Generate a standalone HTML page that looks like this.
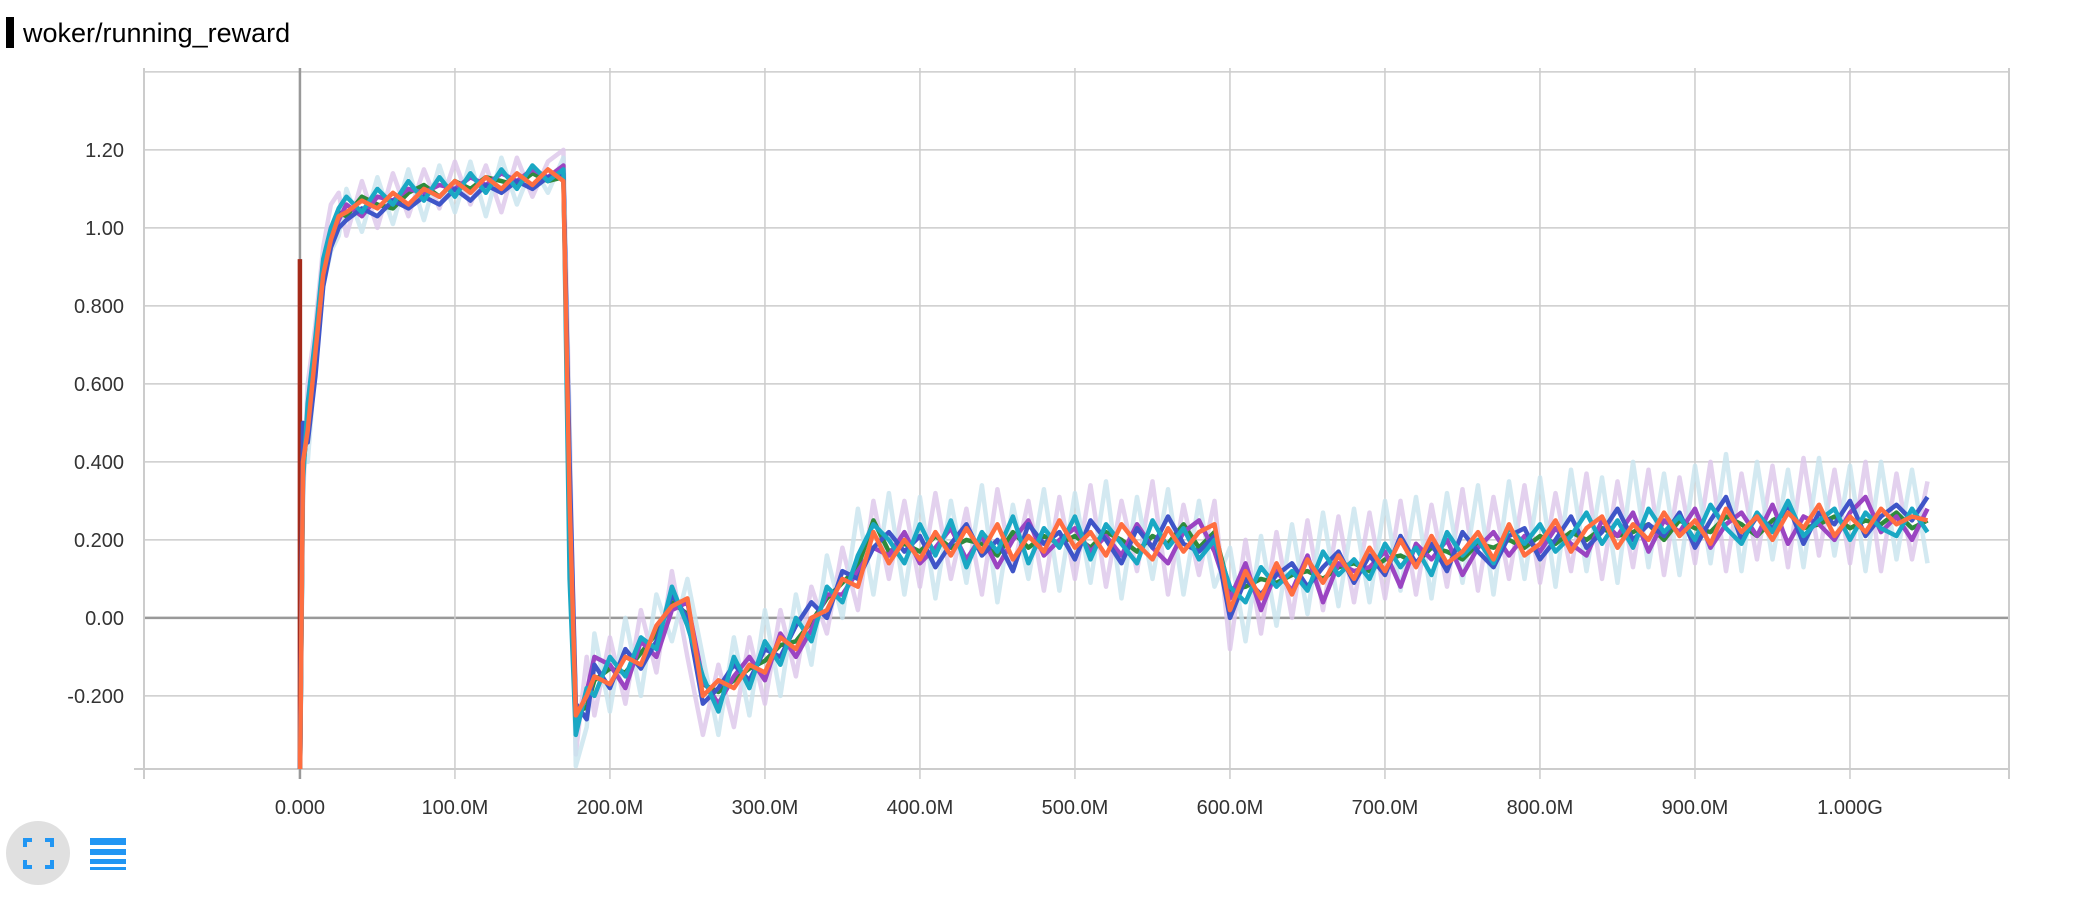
<!DOCTYPE html>
<html><head><meta charset="utf-8"><style>
html,body{margin:0;padding:0;background:#fff;width:2080px;height:924px;overflow:hidden}
svg text{font-family:"Liberation Sans",sans-serif}
</style></head><body>
<svg id="chart" width="2080" height="924" viewBox="0 0 2080 924" xmlns="http://www.w3.org/2000/svg">
<rect x="6" y="17" width="8" height="31" fill="#000"/>
<text x="23" y="42" font-size="27" fill="#000">woker/running_reward</text>
<g id="grid"></g>
<g id="series" clip-path="url(#clip)"></g>
<g id="axes"></g>
<defs><clipPath id="clip"><rect x="144" y="68" width="1865" height="701"/></clipPath></defs>
<g>
<ellipse cx="38" cy="853" rx="32" ry="32" fill="#e0e0e0"/>
<path d="M25 847v-7h7M45 840h7v7M52 860v7h-7M32 867h-7v-7" stroke="#2196f3" stroke-width="4" fill="none"/>
</g>
<g fill="#2196f3">
<rect x="90" y="838" width="36" height="7"/><rect x="90" y="849" width="36" height="6"/><rect x="90" y="859" width="36" height="5"/><rect x="90" y="867" width="36" height="3"/>
</g>
</svg>
<script>
const yTicks=[-0.2,0,0.2,0.4,0.6,0.8,1.0,1.2,1.4];
const yTickLabels=["-0.200","0.00","0.200","0.400","0.600","0.800","1.00","1.20",""];
const xTicks=[0,100,200,300,400,500,600,700,800,900,1000];
const xTickLabels=["0.000","100.0M","200.0M","300.0M","400.0M","500.0M","600.0M","700.0M","800.0M","900.0M","1.000G"];
const steps=[0,2,5,10,15,20,25,30,40,50,60,70,80,90,100,110,120,130,140,150,160,170,174,178,185,
190,200,210,220,230,240,250,260,270,280,290,300,310,320,330,340,350,360,370,380,390,400,410,420,430,440,450,460,470,480,490,500,510,520,530,540,550,560,570,580,590,600,610,620,630,640,650,660,670,680,690,700,710,720,730,740,750,760,770,780,790,800,810,820,830,840,850,860,870,880,890,900,910,920,930,940,950,960,970,980,990,1000,1010,1020,1030,1040,1050];
const seriesOrange=[-0.45,0.40,0.48,0.68,0.88,0.97,1.03,1.04,1.07,1.05,1.09,1.06,1.10,1.08,1.12,1.09,1.13,1.10,1.14,1.11,1.15,1.12,0.30,-0.25,-0.20,
-0.15,-0.17,-0.10,-0.12,-0.02,0.03,0.05,-0.20,-0.16,-0.18,
-0.12,-0.14,-0.05,-0.08,0.00,0.02,0.10,0.08,0.22,0.14,
0.20,0.15,0.22,0.16,0.23,0.17,0.24,0.15,0.21,0.17,
0.25,0.18,0.22,0.16,0.24,0.19,0.15,0.23,0.17,0.22,
0.24,0.02,0.12,0.05,0.14,0.06,0.15,0.09,0.16,0.10,
0.18,0.12,0.20,0.13,0.21,0.14,0.17,0.22,0.15,0.24,
0.16,0.19,0.25,0.17,0.23,0.26,0.18,0.24,0.20,0.27,
0.21,0.25,0.19,0.28,0.22,0.26,0.20,0.27,0.23,0.29,
0.21,0.26,0.22,0.28,0.24,0.26,0.25];
const seriesTeal=[-0.45,0.35,0.55,0.72,0.92,1.00,1.05,1.08,1.04,1.10,1.06,1.12,1.07,1.13,1.08,1.14,1.09,1.15,1.10,1.16,1.12,1.15,0.10,-0.30,-0.18,
-0.20,-0.10,-0.15,-0.05,-0.08,0.08,-0.02,-0.15,-0.24,-0.10,
-0.18,-0.06,-0.12,0.00,-0.06,0.08,0.04,0.16,0.24,0.20,
0.14,0.24,0.16,0.25,0.13,0.22,0.17,0.26,0.14,0.23,
0.18,0.26,0.15,0.24,0.19,0.14,0.25,0.18,0.23,0.15,
0.20,0.08,0.04,0.13,0.08,0.12,0.07,0.17,0.11,0.15,
0.10,0.19,0.13,0.18,0.11,0.22,0.16,0.20,0.14,0.23,
0.19,0.24,0.17,0.21,0.27,0.19,0.25,0.18,0.28,0.22,
0.26,0.20,0.29,0.23,0.19,0.27,0.22,0.30,0.21,0.25,
0.28,0.20,0.27,0.23,0.21,0.28,0.22];
const seriesBlue=[-0.45,0.50,0.45,0.62,0.85,0.95,1.00,1.02,1.05,1.03,1.07,1.05,1.08,1.06,1.10,1.07,1.11,1.09,1.12,1.10,1.13,1.14,0.40,-0.22,-0.26,
-0.12,-0.18,-0.08,-0.13,-0.06,0.06,0.00,-0.22,-0.18,-0.12,
-0.16,-0.08,-0.10,-0.02,0.04,0.00,0.12,0.10,0.18,0.22,
0.17,0.21,0.13,0.19,0.24,0.16,0.20,0.12,0.24,0.19,
0.22,0.15,0.25,0.20,0.14,0.23,0.18,0.26,0.19,0.17,
0.21,0.00,0.10,0.06,0.11,0.14,0.08,0.13,0.17,0.09,
0.16,0.11,0.21,0.14,0.19,0.12,0.22,0.17,0.13,0.21,
0.23,0.15,0.20,0.26,0.18,0.22,0.28,0.20,0.24,0.21,
0.27,0.18,0.25,0.31,0.20,0.26,0.23,0.29,0.19,0.27,
0.24,0.30,0.21,0.26,0.29,0.25,0.31];
const seriesPurple=[-0.45,0.42,0.52,0.66,0.86,0.96,1.02,1.06,1.03,1.08,1.07,1.10,1.09,1.11,1.10,1.13,1.11,1.14,1.12,1.15,1.13,1.16,0.25,-0.27,-0.19,
-0.10,-0.12,-0.18,-0.06,-0.10,0.02,0.04,-0.16,-0.22,-0.15,
-0.10,-0.16,-0.04,-0.10,-0.03,0.06,0.06,0.12,0.18,0.16,
0.22,0.14,0.18,0.23,0.15,0.21,0.13,0.20,0.25,0.16,
0.20,0.23,0.17,0.21,0.16,0.24,0.18,0.14,0.22,0.25,
0.17,0.05,0.14,0.02,0.12,0.07,0.16,0.04,0.14,0.12,
0.13,0.17,0.08,0.19,0.15,0.20,0.11,0.18,0.22,0.16,
0.21,0.17,0.23,0.19,0.16,0.25,0.21,0.27,0.17,0.25,
0.22,0.28,0.18,0.24,0.27,0.21,0.29,0.19,0.26,0.24,
0.20,0.27,0.31,0.22,0.26,0.20,0.28];
const seriesGreen=[-0.45,0.38,0.50,0.70,0.90,0.99,1.04,1.03,1.08,1.06,1.05,1.09,1.11,1.08,1.12,1.10,1.13,1.12,1.11,1.14,1.12,1.13,0.35,-0.24,-0.23,
-0.16,-0.13,-0.14,-0.09,-0.04,0.04,0.01,-0.17,-0.19,-0.16,
-0.13,-0.11,-0.07,-0.06,-0.01,0.05,0.09,0.13,0.25,0.17,
0.19,0.17,0.21,0.18,0.20,0.19,0.16,0.22,0.18,0.21,
0.19,0.21,0.18,0.22,0.20,0.17,0.21,0.19,0.24,0.18,
0.22,0.07,0.08,0.10,0.09,0.11,0.12,0.10,0.13,0.14,
0.12,0.15,0.16,0.14,0.18,0.17,0.15,0.19,0.18,0.20,
0.18,0.21,0.19,0.22,0.20,0.23,0.21,0.22,0.24,0.20,
0.25,0.23,0.22,0.26,0.24,0.21,0.25,0.27,0.23,0.24,
0.26,0.23,0.25,0.24,0.27,0.23,0.25];
const seriesFaintA=[-0.45,0.30,0.60,0.75,0.95,1.06,1.09,0.98,1.12,1.00,1.14,1.03,1.15,1.05,1.17,1.06,1.16,1.04,1.18,1.08,1.17,1.20,0.50,-0.35,-0.10,
-0.25,-0.05,-0.22,0.02,-0.14,0.12,-0.10,-0.30,-0.12,-0.28,
-0.05,-0.22,0.02,-0.15,0.08,-0.04,0.18,0.02,0.30,0.10,
0.30,0.08,0.32,0.10,0.28,0.06,0.33,0.12,0.30,0.07,
0.31,0.10,0.34,0.08,0.30,0.12,0.35,0.06,0.29,0.11,
0.30,-0.08,0.20,-0.04,0.22,0.00,0.25,0.02,0.26,0.04,
0.27,0.05,0.30,0.06,0.29,0.08,0.33,0.07,0.31,0.10,
0.34,0.09,0.32,0.12,0.37,0.10,0.35,0.13,0.38,0.11,
0.36,0.14,0.40,0.12,0.37,0.15,0.39,0.13,0.41,0.16,
0.38,0.14,0.40,0.12,0.37,0.15,0.35];
const seriesFaintB=[-0.45,0.45,0.40,0.65,0.85,0.94,0.98,1.10,0.99,1.13,1.01,1.15,1.02,1.16,1.04,1.17,1.03,1.18,1.06,1.16,1.09,1.18,0.45,-0.38,-0.28,
-0.04,-0.24,0.00,-0.20,0.06,-0.06,0.10,-0.10,-0.30,-0.05,
-0.25,0.02,-0.20,0.06,-0.12,0.16,0.00,0.28,0.06,0.32,
0.06,0.31,0.05,0.30,0.09,0.34,0.04,0.29,0.10,0.33,
0.07,0.32,0.09,0.35,0.05,0.31,0.10,0.33,0.06,0.30,
0.08,0.18,-0.06,0.21,-0.02,0.24,0.01,0.27,0.03,0.28,
0.04,0.30,0.07,0.31,0.05,0.32,0.09,0.34,0.06,0.35,
0.10,0.36,0.08,0.38,0.12,0.36,0.09,0.40,0.13,0.37,
0.11,0.39,0.14,0.42,0.12,0.40,0.15,0.38,0.13,0.41,
0.16,0.39,0.12,0.40,0.15,0.38,0.14];
const spikeSteps=[0,0];
const spikeValues=[-0.45,0.92];

const NS="http://www.w3.org/2000/svg";
const X0=144,X1=2009,Y0=68,Y1=769;
const xMin=-100.6,xMax=1102.6,yMin=-0.3875,yMax=1.41;
function xs(v){return X0+(v-xMin)/(xMax-xMin)*(X1-X0);}
function ys(v){return Y1-(v-yMin)/(yMax-yMin)*(Y1-Y0);}
function mk(tag,attrs,parent){const e=document.createElementNS(NS,tag);for(const k in attrs)e.setAttribute(k,attrs[k]);parent.appendChild(e);return e;}
const grid=document.getElementById('grid'),axes=document.getElementById('axes'),sg=document.getElementById('series');
yTicks.forEach((t,i)=>{
  const zero=t===0;
  const l=mk('line',{x1:X0,x2:X1,y1:ys(t),y2:ys(t),stroke:zero?'#999':'#ccc','stroke-width':zero?2.5:1.5},grid);
  
  
  if(yTickLabels[i]){
    const tx=mk('text',{x:124,y:ys(t)+7,'text-anchor':'end','font-size':20,fill:'#333'},axes);
    tx.textContent=yTickLabels[i];
    
    
  }
});
const bl=mk('line',{x1:X0-10,x2:X1,y1:Y1,y2:Y1,stroke:'#ccc','stroke-width':2},grid);


[X0,X1].forEach(px=>{
  const l=mk('line',{x1:px,x2:px,y1:Y0,y2:Y1+10,stroke:'#ccc','stroke-width':2},grid);
  
  
});
xTicks.forEach((t,i)=>{
  const zero=t===0;
  const l=mk('line',{x1:xs(t),x2:xs(t),y1:Y0,y2:Y1+10,stroke:zero?'#999':'#ccc','stroke-width':zero?2.5:1.5},grid);
  
  
  const tx=mk('text',{x:xs(t),y:814,'text-anchor':'middle','font-size':20,fill:'#333'},axes);
  tx.textContent=xTickLabels[i];
  
  
});
function draw(xv,yv,color,w,op,name){
  const n=Math.min(xv.length,yv.length);
  let d='';
  for(let i=0;i<n;i++)d+=(i?'L':'M')+xs(xv[i]).toFixed(1)+' '+ys(yv[i]).toFixed(1);
  const p=mk('path',{d:d,fill:'none',stroke:color,'stroke-width':w,'stroke-opacity':op,'stroke-linejoin':'round'},sg);
  
  
}
draw(steps,seriesFaintA,'#dcc6ea',4.5,0.8,'series-faint-a');
draw(steps,seriesFaintB,'#c8e4ee',4.5,0.8,'series-faint-b');
draw(spikeSteps,spikeValues,'#a52a1a',4.5,1,'series-red-spike');
draw(steps,seriesGreen,'#2e8b3d',4.5,1,'series-green');
draw(steps,seriesPurple,'#9b45c2',4.5,1,'series-purple');
draw(steps,seriesBlue,'#3f55c8',4.5,1,'series-blue');
draw(steps,seriesTeal,'#1aa8c4',4.5,1,'series-teal');
draw(steps,seriesOrange,'#ff6e40',4.5,1,'series-orange');
</script>
</body></html>
